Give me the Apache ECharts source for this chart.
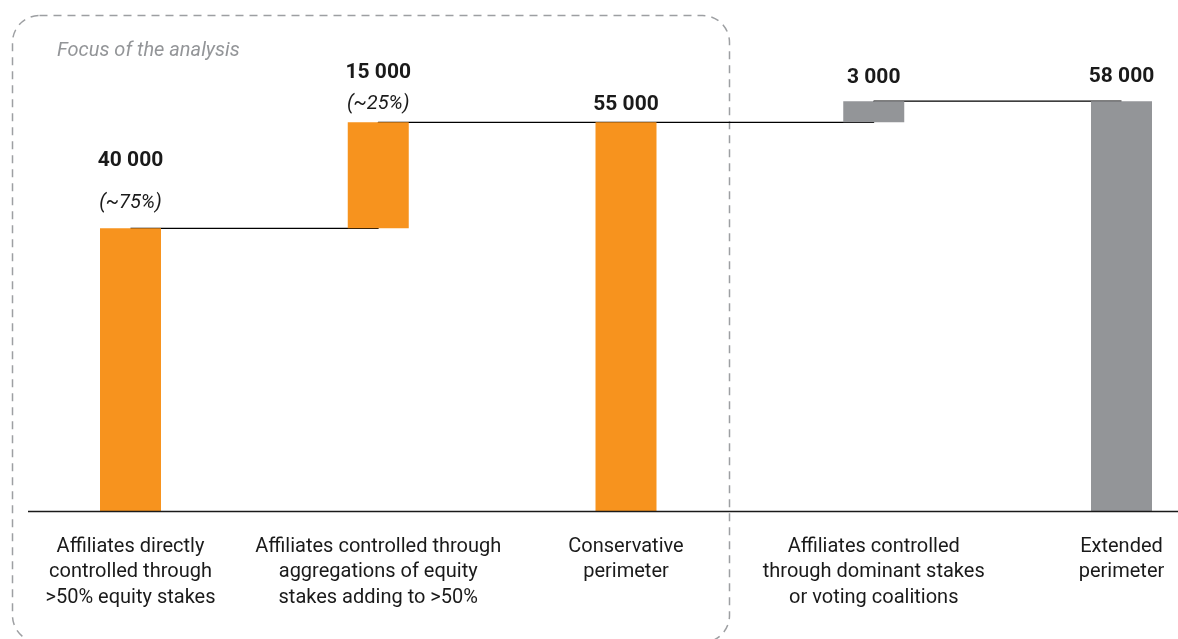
<!DOCTYPE html>
<html>
<head>
<meta charset="utf-8">
<script src="https://cdn.jsdelivr.net/npm/echarts@6/dist/echarts.min.js"></script>
<style>
  html, body { margin: 0; padding: 0; background: #ffffff; }
  #chart { width: 1178px; height: 639px; }
</style>
</head>
<body>
<div id="chart"></div>
<script>
// Waterfall of affiliates: from conservative to extended perimeter
const categories = [
  'Affiliates directly\ncontrolled through\n>50% equity stakes',
  'Affiliates controlled through\naggregations of equity\nstakes adding to >50%',
  'Conservative\nperimeter',
  'Affiliates controlled\nthrough dominant stakes\nor voting coalitions',
  'Extended\nperimeter'
];
const values = [40000, 15000, 55000, 3000, 58000];
const bases = [0, 40000, 0, 55000, 0];          // invisible offset under each step
const levels = [40000, 55000, 55000, 58000, 58000]; // running level after each bar
const shares = ['(~75%)', '(~25%)', '', '', ''];
const inFocus = [true, true, true, false, false];

const ORANGE = '#f7931e';
const GREY = '#939598';
const INK = '#1a1a1a';
const FONT = 'Roboto, "Liberation Sans", sans-serif';

// label spacing per bar: [value line height, share line height, distance]
const labelLayout = [
  [64, 22, 14],
  [42, 22, 7],
  [22, 0, 7],
  [22, 0, 12],
  [22, 0, 13]
];

function fmt(v) {
  return String(v).replace(/\B(?=(\d{3})+(?!\d))/g, ' ');
}

const valueData = values.map((v, i) => {
  const [vh, ph, d] = labelLayout[i];
  const rich = {
    v: { fontFamily: FONT, fontWeight: 'bold', fontSize: 21, color: INK, lineHeight: vh },
    p: { fontFamily: FONT, fontStyle: 'italic', fontSize: 20, color: INK, lineHeight: ph || 1 }
  };
  return {
    value: v,
    itemStyle: { color: inFocus[i] ? ORANGE : GREY },
    label: {
      show: true,
      position: 'top',
      distance: d,
      formatter: shares[i] ? '{v|' + fmt(v) + '}\n{p|' + shares[i] + '}' : '{v|' + fmt(v) + '}',
      rich: rich
    }
  };
});

const chart = echarts.init(document.getElementById('chart'), null, { renderer: 'canvas' });

const option = {
  animation: false,
  backgroundColor: '#ffffff',
  grid: { left: 130.5, right: 56.5, top: 87, bottom: 128 },
  xAxis: {
    type: 'category',
    data: categories,
    boundaryGap: false,
    axisLine: { show: false },
    axisTick: { show: false },
    axisLabel: {
      interval: 0,
      margin: 23,
      fontFamily: FONT,
      fontSize: 20,
      lineHeight: 25.5,
      color: INK,
      align: 'center'
    },
    splitLine: { show: false }
  },
  yAxis: {
    type: 'value',
    min: 0,
    max: 60000,
    show: false,
    splitLine: { show: false }
  },
  series: [
    {
      // connector lines between consecutive bars
      type: 'line',
      data: levels,
      step: 'end',
      symbol: 'none',
      z: 1,
      lineStyle: { color: '#000000', width: 1.2 },
      silent: true
    },
    {
      type: 'bar',
      stack: 'wf',
      data: bases,
      barWidth: 61,
      z: 3,
      itemStyle: { color: 'rgba(0,0,0,0)' },
      silent: true
    },
    {
      type: 'bar',
      stack: 'wf',
      data: valueData,
      barWidth: 61,
      z: 3
    }
  ],
  graphic: [
    {
      // baseline
      type: 'line',
      silent: true,
      z: 5,
      shape: { x1: 28, y1: 511.5, x2: 1178, y2: 511.5 },
      style: { stroke: INK, lineWidth: 1.3 }
    },
    {
      // dashed frame around the analysed part
      type: 'rect',
      silent: true,
      z: 0,
      shape: { x: 12.5, y: 15.5, width: 717, height: 627, r: 27 },
      style: { fill: 'none', stroke: '#9d9fa2', lineWidth: 1.5, lineDash: [8, 6] }
    },
    {
      type: 'text',
      silent: true,
      left: 57,
      top: 41,
      style: {
        text: 'Focus of the analysis',
        fill: '#939598',
        font: 'italic 20px ' + FONT
      }
    }
  ]
};

chart.setOption(option);
</script>
</body>
</html>
